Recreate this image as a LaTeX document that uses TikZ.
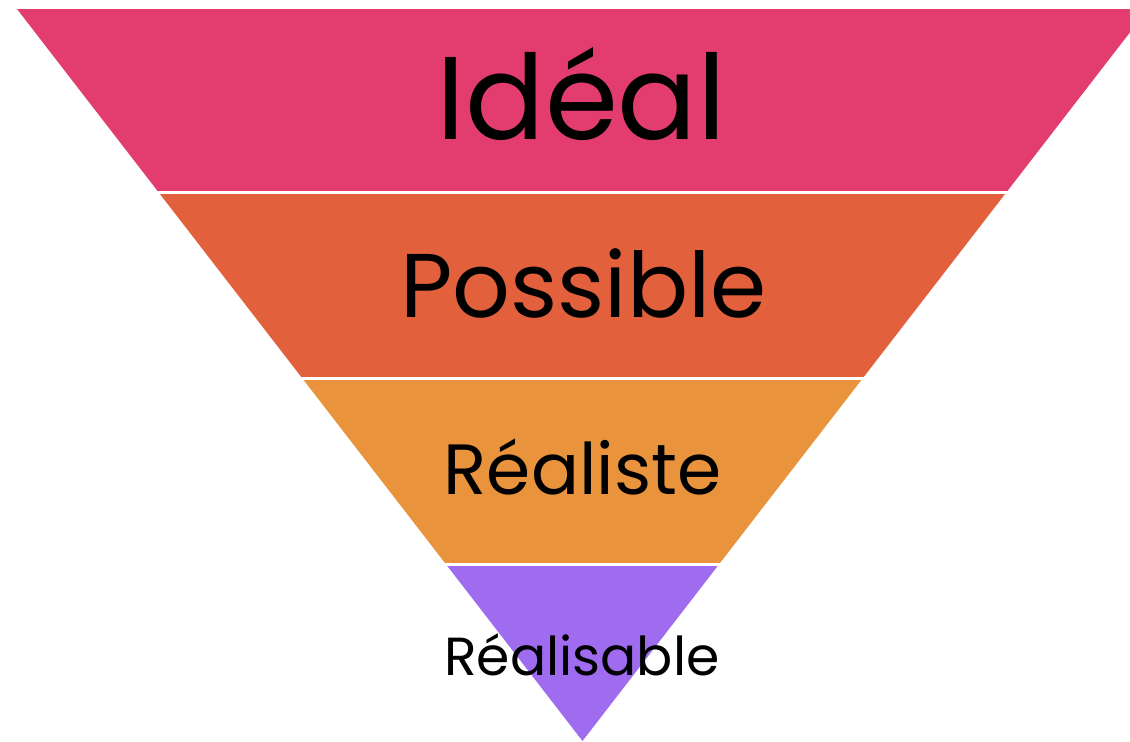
\documentclass[tikz,border=0pt]{standalone}
\usepackage{fontspec}
\setmainfont{Poppins}
\usepackage{tikz}
\usetikzlibrary{positioning}

\definecolor{ideal}{RGB}{226,61,110}
\definecolor{possible}{RGB}{227,96,61}
\definecolor{realiste}{RGB}{233,148,61}
\definecolor{realisable}{RGB}{159,108,240}

\begin{document}
\begin{tikzpicture}[
x=0.02cm, y=-0.02cm,
bandlabel/.style={anchor=base, text=black, inner sep=0pt},
]
\useasboundingbox (0,0) rectangle (1130,741);
\clip (0,0) rectangle (1130,741);

%Bands
\foreach \top/\bot/\col in {9/190/ideal, 194/376/possible, 380/562/realiste, 566/741/realisable} {
  \begin{scope}
    \clip (0,\top) rectangle (1130,\bot);
    \fill[\col] (17,9) -- (1148,9) -- (582.5,741) -- cycle;
  \end{scope}
}

%Labels
\node[bandlabel, font=\fontsize{67}{76}\selectfont] (ideal) at (581.5,139) {Idéal};
\node[bandlabel, font=\fontsize{51.5}{60}\selectfont] (possible) at (583.5,317) {Possible};
\node[bandlabel, font=\fontsize{40.5}{47}\selectfont] (realiste) at (582.5,494) {Réaliste};
\node[bandlabel, font=\fontsize{30.5}{36}\selectfont] (realisable) at (582,675) {Réalisable};

\end{tikzpicture}
\end{document}
